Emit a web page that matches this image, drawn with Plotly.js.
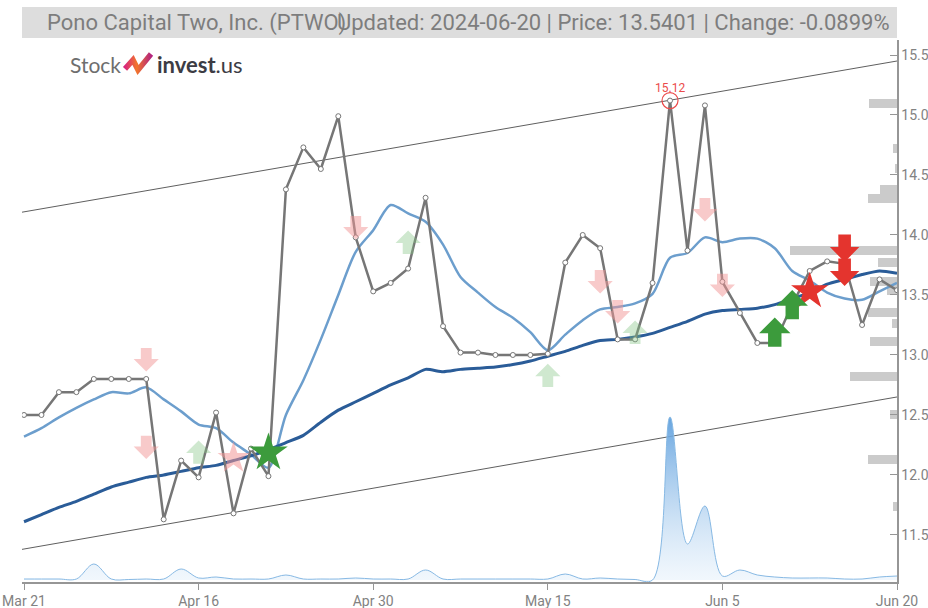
<!DOCTYPE html>
<html>
<head>
<meta charset="utf-8">
<script src="https://cdn.plot.ly/plotly-3.0.1.min.js"></script>
<style>
  html, body { margin: 0; padding: 0; background: #fff; }
  #chart { width: 928px; height: 608px; }
</style>
</head>
<body>
<div id="chart"></div>
<script>
// ---------------- data ----------------
const tickIndex  = [0, 10, 20, 30, 40, 50];
const tickLabels = ['Mar 21', 'Apr 16', 'Apr 30', 'May 15', 'Jun 5', 'Jun 20'];

const closePrice = [12.50,12.50,12.69,12.69,12.80,12.80,12.80,12.80,11.63,12.12,11.98,12.52,11.68,12.22,11.99,
  14.38,14.73,14.55,14.99,13.98,13.53,13.60,13.72,14.31,13.24,13.02,13.02,13.00,13.00,13.00,13.01,
  13.77,14.00,13.89,13.13,13.13,13.60,15.12,13.87,15.08,13.61,13.35,13.10,13.10,13.42,13.70,13.78,13.76,13.25,13.63,13.54];

const shortAvg = [12.32,12.39,12.48,12.56,12.63,12.69,12.68,12.73,12.63,12.53,12.42,12.39,12.27,12.17,12.06,
  12.50,12.79,13.13,13.50,13.86,14.04,14.25,14.18,14.11,13.92,13.65,13.52,13.40,13.31,13.19,13.04,
  13.17,13.29,13.38,13.40,13.43,13.51,13.81,13.85,13.98,13.94,13.97,13.97,13.89,13.70,13.62,13.52,13.47,13.46,13.53,13.60];

const longAvg = [11.61,11.67,11.73,11.78,11.84,11.90,11.94,11.98,12.00,12.03,12.06,12.08,12.12,12.16,12.21,
  12.27,12.33,12.44,12.54,12.61,12.68,12.75,12.81,12.88,12.86,12.88,12.89,12.90,12.92,12.95,12.99,
  13.03,13.08,13.12,13.13,13.15,13.18,13.23,13.28,13.34,13.37,13.38,13.39,13.42,13.47,13.52,13.59,13.63,13.67,13.70,13.68];

const volume = [1000,1000,1000,1000,16000,1000,500,1000,1000,11000,2000,3000,1000,1000,1000,
  5000,1000,1000,1000,2000,1000,1000,1000,10000,1000,1000,1000,1000,1000,1000,1000,
  6000,1000,2000,1000,500,0,163000,36000,74000,4000,10000,5000,3000,2000,2000,2000,1000,1000,3000,4000];

const trendX     = [-0.115, 50];
const trendUpper = [14.19, 15.45];
const trendLower = [11.38, 12.65];

const profilePrice  = [15.10,14.72,14.55,14.375,14.30,13.87,13.77,13.61,13.54,13.35,13.26,13.11,12.82,12.50,12.125,11.74];
const profileVolume = [2800,400,200,1700,2900,10700,1900,2700,1000,2900,500,2700,4700,700,2900,400];

const weakSellIdx = [7, 7, 19, 33, 34, 39, 40];
const weakSellVal = [12.96, 12.23, 14.06, 13.61, 13.36, 14.21, 13.58];
const weakBuyIdx  = [10, 22, 30, 35];
const weakBuyVal  = [12.19, 13.94, 12.83, 13.19];
const buyIdx  = [43, 44];
const buyVal  = [13.19, 13.42];
const sellIdx = [47, 47];
const sellVal = [13.89, 13.69];
const buyStarIdx = [14],  buyStarVal = [12.185];
const sellStarIdx = [45], sellStarVal = [13.53];
const weakSellStarIdx = [12], weakSellStarVal = [12.14];

// ---------------- chart ----------------
const idx = closePrice.map((_, i) => i);
const maxVal = Math.max(...closePrice);
const maxIdx = closePrice.indexOf(maxVal);

const traces = [
  { type: 'bar', orientation: 'h', x: profileVolume, y: profilePrice, xaxis: 'x', yaxis: 'y',
    width: 0.075, marker: { color: 'rgba(190,190,190,0.8)', line: { width: 0 } }, hoverinfo: 'skip' },
  { type: 'scatter', mode: 'lines', x: trendX, y: trendUpper, xaxis: 'x2', yaxis: 'y',
    line: { color: 'rgb(95,95,95)', width: 1 } },
  { type: 'scatter', mode: 'lines', x: trendX, y: trendLower, xaxis: 'x2', yaxis: 'y',
    line: { color: 'rgb(95,95,95)', width: 1 } },
  { type: 'scatter', mode: 'lines', x: idx, y: shortAvg, xaxis: 'x2', yaxis: 'y',
    line: { color: 'rgb(108,158,205)', width: 2.5, shape: 'spline', smoothing: 0.8 } },
  { type: 'scatter', mode: 'lines', x: idx, y: longAvg, xaxis: 'x2', yaxis: 'y',
    line: { color: 'rgb(42,92,152)', width: 3, shape: 'spline', smoothing: 0.6 } },
  { type: 'scatter', mode: 'lines+markers', x: idx, y: closePrice, xaxis: 'x2', yaxis: 'y',
    line: { color: 'rgb(118,118,118)', width: 2.5 },
    marker: { symbol: 'circle', size: 5, color: '#fff', line: { color: 'rgb(118,118,118)', width: 1 } } },
  { type: 'scatter', mode: 'markers', x: [maxIdx], y: [maxVal], xaxis: 'x2', yaxis: 'y',
    marker: { symbol: 'circle-open', size: 16, color: 'rgb(235,75,75)', line: { width: 1.2 } } },
  { type: 'scatter', mode: 'markers', x: weakSellStarIdx, y: weakSellStarVal, xaxis: 'x2', yaxis: 'y',
    marker: { symbol: 'star', size: 24, color: 'rgba(242,150,150,0.55)', line: { width: 0 } } },
  { type: 'scatter', mode: 'markers', x: buyStarIdx, y: buyStarVal, xaxis: 'x2', yaxis: 'y',
    marker: { symbol: 'star', size: 29, color: 'rgb(60,155,60)', line: { width: 0 } } },
  { type: 'scatter', mode: 'markers', x: sellStarIdx, y: sellStarVal, xaxis: 'x2', yaxis: 'y',
    marker: { symbol: 'star', size: 28, color: 'rgb(228,52,46)', line: { width: 0 } } },
  { type: 'scatter', mode: 'lines', x: idx, y: volume, xaxis: 'x2', yaxis: 'y2',
    line: { color: 'rgb(135,185,228)', width: 1, shape: 'spline', smoothing: 1 },
    fill: 'tozeroy', fillcolor: 'rgba(150,195,235,0.35)',
    fillgradient: { type: 'vertical', start: 0, stop: 163000,
      colorscale: [[0, 'rgba(225,238,250,0.45)'], [1, 'rgba(95,160,222,0.95)']] } }
];

function arrowPath(dir, k) {
  const P = [[-6,-13],[6,-13],[6,-1],[14,-1],[0,13],[-14,-1],[-6,-1]];
  return 'M' + P.map(p => (p[0]*k).toFixed(1) + ',' + (p[1]*k*dir).toFixed(1)).join(' L') + ' Z';
}
const shapes = [
  { type: 'rect', xref: 'paper', yref: 'paper', x0: 0, x1: 1, y0: 1.0037, y1: 1.0609,
    fillcolor: 'rgb(221,221,221)', line: { width: 0 }, layer: 'below' }
];
function addArrows(xs, ys, dir, color, k) {
  xs.forEach((xv, i) => {
    shapes.push({ type: 'path', xref: 'x2', yref: 'y', xsizemode: 'pixel', ysizemode: 'pixel',
      xanchor: xv, yanchor: ys[i], path: arrowPath(dir, k), fillcolor: color, line: { width: 0 } });
  });
}
addArrows(weakSellIdx, weakSellVal, -1, 'rgba(242,150,150,0.5)', 0.9);
addArrows(weakBuyIdx, weakBuyVal, 1, 'rgba(130,195,130,0.38)', 0.9);
addArrows(buyIdx, buyVal, 1, 'rgb(60,155,60)', 1.12);
addArrows(sellIdx, sellVal, -1, 'rgb(228,52,46)', 1.05);

const iconSvg = "<svg xmlns='http://www.w3.org/2000/svg' width='32' height='24' viewBox='0 0 32 24'>" +
  "<defs><linearGradient id='g' x1='0' x2='1' y1='0' y2='0'>" +
  "<stop offset='0' stop-color='#d8267d'/><stop offset='0.45' stop-color='#f2752b'/><stop offset='1' stop-color='#b3247e'/>" +
  "</linearGradient></defs>" +
  "<polyline points='3,17 11,8 16,18 29,2' fill='none' stroke='url(#g)' stroke-width='5.5' stroke-linejoin='miter'/></svg>";

const layout = {
  width: 928, height: 608,
  margin: { l: 22, r: 31, t: 40, b: 26, pad: 0 },
  paper_bgcolor: '#fff', plot_bgcolor: '#fff',
  showlegend: false,
  bargap: 0,
  xaxis: { range: [87500, 0], visible: false, fixedrange: true },
  xaxis2: { overlaying: 'x', anchor: 'y', side: 'bottom', range: [-0.115, 50],
    tickmode: 'array', tickvals: tickIndex, ticktext: tickLabels,
    showgrid: false, zeroline: false, showline: true, linecolor: 'rgb(150,150,150)', linewidth: 1.5,
    ticks: 'outside', ticklen: 6, tickcolor: 'rgb(150,150,150)',
    tickfont: { family: 'Roboto, sans-serif', size: 14, color: 'rgb(130,130,130)' } },
  yaxis: { side: 'right', anchor: 'x', range: [11.108, 15.625],
    tickmode: 'array', tickvals: [11.5, 12, 12.5, 13, 13.5, 14, 14.5, 15, 15.5], tickformat: '.1f',
    showgrid: false, zeroline: false, showline: true, linecolor: 'rgb(150,150,150)', linewidth: 1.5,
    ticks: 'inside', ticklen: 7, tickcolor: 'rgb(150,150,150)',
    tickfont: { family: 'Roboto, sans-serif', size: 14, color: 'rgb(130,130,130)' } },
  yaxis2: { overlaying: 'y', anchor: 'x2', range: [-2000, 540000], visible: false },
  shapes: shapes,
  images: [{ source: 'data:image/svg+xml;charset=utf-8,' + encodeURIComponent(iconSvg),
    xref: 'paper', yref: 'paper', x: 0.1143, y: 0.978, sizex: 0.0366, sizey: 0.0443,
    sizing: 'stretch', xanchor: 'left', yanchor: 'top', layer: 'above' }],
  annotations: [
    { xref: 'x2', yref: 'y', x: maxIdx, y: maxVal, yshift: 13, text: maxVal.toFixed(2), showarrow: false,
      font: { family: 'Roboto, sans-serif', size: 12, color: 'rgb(235,75,75)' } },
    { xref: 'paper', yref: 'paper', x: 0.0263, y: 1.0314, xanchor: 'left', yanchor: 'middle', showarrow: false,
      text: 'Pono Capital Two, Inc. (PTWO)', font: { family: 'Roboto, sans-serif', size: 22, color: 'rgb(125,125,125)' } },
    { xref: 'paper', yref: 'paper', x: 0.9943, y: 1.0314, xanchor: 'right', yanchor: 'middle', showarrow: false,
      text: 'Updated: 2024-06-20 | Price: 13.5401 | Change: -0.0899%', font: { family: 'Roboto, sans-serif', size: 22, color: 'rgb(125,125,125)' } },
    { xref: 'paper', yref: 'paper', x: 0.0526, y: 0.954, xanchor: 'left', yanchor: 'middle', showarrow: false,
      text: 'Stock', font: { family: 'Lato, sans-serif', size: 21, color: 'rgb(110,110,110)' } },
    { xref: 'paper', yref: 'paper', x: 0.152, y: 0.954, xanchor: 'left', yanchor: 'middle', showarrow: false,
      text: '<b>invest</b>.us', font: { family: 'Lato, sans-serif', size: 22, color: 'rgb(60,60,68)' } }
  ]
};

Plotly.newPlot('chart', traces, layout, { staticPlot: true, displayModeBar: false });
</script>
</body>
</html>
